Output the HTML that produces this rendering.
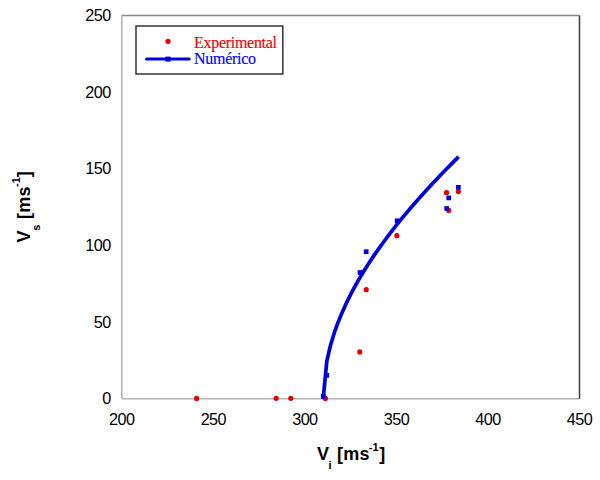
<!DOCTYPE html>
<html><head><meta charset="utf-8"><style>
html,body{margin:0;padding:0;background:#fff;}
body{width:600px;height:480px;overflow:hidden;position:relative;}
svg{position:absolute;left:0;top:0;}
.t{font-family:"Liberation Sans",sans-serif;font-size:16.2px;letter-spacing:-0.55px;fill:#000;}
.lg{font-family:"Liberation Serif",serif;font-size:16px;stroke-width:0.15px;letter-spacing:-0.3px;}
.ti{font-family:"Liberation Sans",sans-serif;font-size:18px;font-weight:bold;fill:#000;}
.ts{font-family:"Liberation Sans",sans-serif;font-size:11px;font-weight:bold;fill:#000;}
</style></head><body>
<svg width="600" height="480" viewBox="0 0 600 480">
<line x1="121.8" y1="15.5" x2="121.8" y2="398.8" stroke="#b4b4b4" stroke-width="1.6"/>
<line x1="121.8" y1="398.8" x2="579.5" y2="398.8" stroke="#b4b4b4" stroke-width="1.6"/>
<line x1="121.8" y1="15.5" x2="579.5" y2="15.5" stroke="#888" stroke-width="1.5"/>
<line x1="579.5" y1="15.5" x2="579.5" y2="398.8" stroke="#404040" stroke-width="1.5"/>
<text x="110.6" y="404.40" text-anchor="end" class="t">0</text>
<text x="110.6" y="327.74" text-anchor="end" class="t">50</text>
<text x="110.6" y="251.08" text-anchor="end" class="t">100</text>
<text x="110.6" y="174.42" text-anchor="end" class="t">150</text>
<text x="110.6" y="97.76" text-anchor="end" class="t">200</text>
<text x="110.6" y="21.10" text-anchor="end" class="t">250</text>
<text x="121.80" y="425" text-anchor="middle" class="t">200</text>
<text x="213.34" y="425" text-anchor="middle" class="t">250</text>
<text x="304.88" y="425" text-anchor="middle" class="t">300</text>
<text x="396.42" y="425" text-anchor="middle" class="t">350</text>
<text x="487.96" y="425" text-anchor="middle" class="t">400</text>
<text x="579.50" y="425" text-anchor="middle" class="t">450</text>
<circle cx="196.6" cy="398.4" r="2.6" fill="#e40000"/>
<circle cx="276.2" cy="398.3" r="2.6" fill="#e40000"/>
<circle cx="290.8" cy="398.3" r="2.6" fill="#e40000"/>
<circle cx="325.4" cy="398.4" r="2.6" fill="#e40000"/>
<circle cx="359.8" cy="351.9" r="2.6" fill="#e40000"/>
<circle cx="366.2" cy="289.7" r="2.6" fill="#e40000"/>
<circle cx="396.9" cy="235.7" r="2.6" fill="#e40000"/>
<circle cx="446.5" cy="192.7" r="2.6" fill="#e40000"/>
<circle cx="448.75" cy="210.4" r="2.6" fill="#e40000"/>
<circle cx="458.35" cy="191.5" r="2.6" fill="#e40000"/>
<path d="M323.19,398.60 L326.85,360.96 L330.51,345.29 L334.17,333.20 L337.83,322.96 L341.50,313.90 L345.16,305.67 L348.82,298.07 L352.48,290.95 L356.14,284.25 L359.80,277.87 L363.47,271.78 L367.13,265.93 L370.79,260.30 L374.45,254.86 L378.11,249.59 L381.77,244.46 L385.44,239.48 L389.10,234.61 L392.76,229.86 L396.42,225.22 L400.08,220.66 L403.74,216.20 L407.40,211.82 L411.07,207.52 L414.73,203.29 L418.39,199.12 L422.05,195.02 L425.71,190.98 L429.37,186.99 L433.04,183.05 L436.70,179.17 L440.36,175.33 L444.02,171.54 L447.68,167.79 L451.34,164.08 L455.01,160.41 L458.67,156.77" fill="none" stroke="#0000dd" stroke-width="3.7" stroke-linejoin="round" stroke-linecap="butt"/>
<rect x="320.95" y="394.05" width="4.7" height="4.7" fill="#0000dd"/>
<rect x="324.40" y="373.05" width="4.7" height="4.7" fill="#0000dd"/>
<rect x="357.65" y="270.15" width="4.7" height="4.7" fill="#0000dd"/>
<rect x="363.85" y="249.35" width="4.7" height="4.7" fill="#0000dd"/>
<rect x="394.85" y="218.45" width="4.7" height="4.7" fill="#0000dd"/>
<rect x="446.40" y="195.55" width="4.7" height="4.7" fill="#0000dd"/>
<rect x="444.35" y="206.15" width="4.7" height="4.7" fill="#0000dd"/>
<rect x="456.00" y="185.00" width="4.7" height="4.7" fill="#0000dd"/>
<rect x="136" y="26" width="146.8" height="48" fill="#fff" stroke="#333" stroke-width="1.5"/>
<circle cx="168" cy="41.3" r="2.6" fill="#e40000"/>
<line x1="146.5" y1="59.1" x2="189.2" y2="59.1" stroke="#0000dd" stroke-width="3" stroke-linecap="round"/>
<rect x="165.5" y="56.6" width="5" height="5" fill="#0000dd"/>
<text x="194.1" y="47.8" class="lg" fill="#f00000" stroke="#f00000">Experimental</text>
<text x="194.1" y="64.1" class="lg" fill="#0000ff" stroke="#0000ff">Numérico</text>
<text x="316.9" y="460" class="ti">V</text>
<text x="328.6" y="469.4" class="ts">i</text>
<text x="336.9" y="460" class="ti" letter-spacing="0.3">[ms</text>
<text x="368.8" y="450.6" class="ts">-1</text>
<text x="379.2" y="460" class="ti">]</text>
<g transform="translate(29.7,242.5) rotate(-90)">
<text x="0" y="0" class="ti">V</text>
<text x="11.8" y="10.3" class="ts">s</text>
<text x="23.4" y="0" class="ti" letter-spacing="0.3">[ms</text>
<text x="55.6" y="-9.8" class="ts">-1</text>
<text x="65.3" y="0" class="ti">]</text>
</g>
</svg>
</body></html>
